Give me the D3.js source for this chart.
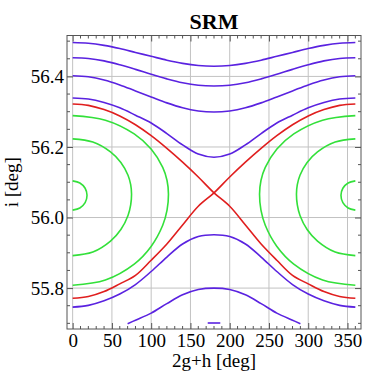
<!DOCTYPE html>
<html>
<head>
<meta charset="utf-8">
<script src="https://cdn.jsdelivr.net/npm/d3@7"></script>
<style>
  body { margin: 0; background: white; }
  text { font-family: "Liberation Serif", "Times New Roman", serif; fill: #000; }
</style>
</head>
<body>
<svg id="chart" width="372" height="380"></svg>
<script>
// tick values
const xMajor = [0, 50, 100, 150, 200, 250, 300, 350];
const yMajor = [55.8, 56.0, 56.2, 56.4];

// circulating contours (blue), [2g+h, i]
const blue1 = [[0,56.496],[20,56.494],[40,56.488],[60,56.479],[80,56.468],[100,56.457],[120,56.446],[140,56.437],[160,56.431],[180,56.429],
  [200,56.431],[220,56.437],[240,56.446],[260,56.457],[280,56.468],[300,56.479],[320,56.488],[340,56.494],[360,56.496]];
const blue2 = [[0,56.453],[20,56.451],[40,56.444],[60,56.433],[80,56.420],[100,56.406],[120,56.393],[140,56.382],[160,56.375],[180,56.373],
  [200,56.375],[220,56.382],[240,56.393],[260,56.406],[280,56.420],[300,56.433],[320,56.444],[340,56.451],[360,56.453]];
const blue3 = [[0,56.402],[20,56.399],[40,56.390],[60,56.376],[80,56.359],[100,56.342],[120,56.325],[140,56.311],[160,56.302],[180,56.299],
  [200,56.302],[220,56.311],[240,56.325],[260,56.342],[280,56.359],[300,56.376],[320,56.390],[340,56.399],[360,56.402]];
const blue4 = [[0,56.339],[20,56.336],[40,56.326],[60,56.311],[80,56.290],[100,56.268],[120,56.238],[140,56.206],[160,56.180],[180,56.171],
  [200,56.180],[220,56.206],[240,56.238],[260,56.268],[280,56.290],[300,56.311],[320,56.326],[340,56.336],[360,56.339]];
const blue5 = [[0,55.746],[20,55.751],[40,55.764],[60,55.783],[80,55.810],[100,55.847],[120,55.888],[140,55.925],[160,55.946],[180,55.951],
  [200,55.946],[220,55.925],[240,55.888],[260,55.847],[280,55.810],[300,55.783],[320,55.764],[340,55.751],[360,55.746]];
const blue6 = [[70,55.699],[80,55.709],[100,55.729],[120,55.756],[140,55.781],[160,55.796],[180,55.800],
  [200,55.796],[220,55.781],[240,55.756],[260,55.729],[280,55.709],[290,55.699]];
const blue7 = [[172,55.701],[188,55.701]];

// separatrix (red)
const red1 = [[0,56.322],[20,56.318],[40,56.306],[60,56.288],[80,56.263],[100,56.232],[120,56.196],[140,56.157],[160,56.115],[180,56.070],
  [200,56.032],[220,55.979],[240,55.925],[260,55.879],[280,55.836],[300,55.812],[320,55.790],[340,55.776],[360,55.771]];
const red2 = [[0,55.771],[20,55.776],[40,55.790],[60,55.812],[80,55.836],[100,55.879],[120,55.925],[140,55.979],[160,56.032],[180,56.070],
  [200,56.115],[220,56.157],[240,56.196],[260,56.232],[280,56.263],[300,56.288],[320,56.306],[340,56.318],[360,56.322]];

// librating contours (green), traced top -> tip -> bottom
const green1L = [[0,56.289],[41.7,56.276],[78.4,56.237],[99.9,56.194],[114.7,56.142],[120.2,56.105],[122,56.066],
  [120.2,56.021],[114.7,55.978],[99.9,55.918],[78.4,55.868],[41.7,55.823],[0,55.808]];
const green1R = [[360,56.289],[318.3,56.276],[281.6,56.237],[260.1,56.194],[245.3,56.142],[239.8,56.105],[238,56.066],
  [239.8,56.021],[245.3,55.978],[260.1,55.918],[281.6,55.868],[318.3,55.823],[360,55.808]];
const green2L = [[0,56.223],[25.7,56.214],[48.2,56.186],[61.4,56.156],[70.5,56.120],[73.9,56.093],[75,56.066],
  [73.9,56.036],[70.5,56.006],[61.4,55.966],[48.2,55.933],[25.7,55.902],[0,55.892]];
const green2R = [[360,56.223],[334.3,56.214],[311.8,56.186],[298.6,56.156],[289.5,56.120],[286.1,56.093],[285,56.066],
  [286.1,56.036],[289.5,56.006],[298.6,55.966],[311.8,55.933],[334.3,55.902],[360,55.892]];
const green3L = [[0,56.104],[9.2,56.098],[15.9,56.083],[18.3,56.063],[15.9,56.042],[9.2,56.027],[0,56.021]];
const green3R = [[360,56.104],[350.8,56.098],[344.1,56.083],[341.7,56.063],[344.1,56.042],[350.8,56.027],[360,56.021]];

const blueCurves = [blue1, blue2, blue3, blue4, blue5, blue6, blue7];
const redCurves = [red1, red2];
const greenCurves = [green1L, green1R, green2L, green2R, green3L, green3R];

const W = 372, H = 380;
const margin = { left: 67, top: 35.5, right: 11, bottom: 51 };
const innerW = W - margin.left - margin.right;
const innerH = H - margin.top - margin.bottom;

const x = d3.scaleLinear().domain([-7.2, 367.2]).range([0, innerW]);
const y = d3.scaleLinear().domain([55.684, 56.516]).range([innerH, 0]);

const svg = d3.select("#chart");
svg.append("rect").attr("width", W).attr("height", H).attr("fill", "white");

const g = svg.append("g").attr("transform", `translate(${margin.left},${margin.top})`);

// grid
g.append("g").selectAll("line").data(xMajor).join("line")
  .attr("x1", d => x(d)).attr("x2", d => x(d))
  .attr("y1", 0).attr("y2", innerH)
  .attr("stroke", "#c2c2c2").attr("stroke-width", 1);
g.append("g").selectAll("line").data(yMajor).join("line")
  .attr("y1", d => y(d)).attr("y2", d => y(d))
  .attr("x1", 0).attr("x2", innerW)
  .attr("stroke", "#c2c2c2").attr("stroke-width", 1);

// contours
const line = d3.line()
  .x(d => x(d[0]))
  .y(d => y(d[1]))
  .curve(d3.curveCatmullRom.alpha(0.5));

const curves = g.append("g").attr("fill", "none").attr("stroke-width", 1.6).attr("stroke-linejoin", "round");
curves.selectAll(".green").data(greenCurves).join("path")
  .attr("class", "green").attr("d", line).attr("stroke", "#33e03a");
curves.selectAll(".red").data(redCurves).join("path")
  .attr("class", "red").attr("d", line).attr("stroke", "#e01e1e");
curves.selectAll(".blue").data(blueCurves).join("path")
  .attr("class", "blue").attr("d", line).attr("stroke", "#5a22e0");

// frame ticks (inward, all four sides)
const xMinor = d3.range(0, 361, 10);
const yMinor = d3.range(55.7, 56.51, 0.05).map(v => +v.toFixed(2));

const bottomAxis = d3.axisBottom(x).tickValues(xMajor).tickSize(-6).tickPadding(5).tickFormat(d3.format("d"));
const leftAxis = d3.axisLeft(y).tickValues(yMajor).tickSize(-6).tickPadding(3).tickFormat(d3.format(".1f"));

function styleAxis(sel) {
  sel.select(".domain").remove();
  sel.selectAll(".tick line").attr("stroke", "#555");
  sel.selectAll(".tick text").attr("font-family", "Liberation Serif, serif").attr("font-size", 19).attr("fill", "#000");
}

g.append("g").attr("transform", `translate(0,${innerH})`).call(bottomAxis).call(styleAxis);
g.append("g").call(leftAxis).call(styleAxis);
g.append("g").call(d3.axisTop(x).tickValues(xMajor).tickSize(-6).tickFormat("")).call(styleAxis);
g.append("g").attr("transform", `translate(${innerW},0)`)
  .call(d3.axisRight(y).tickValues(yMajor).tickSize(-6).tickFormat("")).call(styleAxis);

// minor ticks
const minorX = xMinor.filter(v => !xMajor.includes(v));
const minorY = yMinor.filter(v => !yMajor.some(m => Math.abs(m - v) < 1e-6));
const minor = g.append("g").attr("stroke", "#555").attr("stroke-width", 1);
minor.selectAll(".mb").data(minorX).join("line").attr("class", "mb")
  .attr("x1", d => x(d)).attr("x2", d => x(d)).attr("y1", innerH).attr("y2", innerH - 3);
minor.selectAll(".mt").data(minorX).join("line").attr("class", "mt")
  .attr("x1", d => x(d)).attr("x2", d => x(d)).attr("y1", 0).attr("y2", 3);
minor.selectAll(".ml").data(minorY).join("line").attr("class", "ml")
  .attr("y1", d => y(d)).attr("y2", d => y(d)).attr("x1", 0).attr("x2", 3);
minor.selectAll(".mr").data(minorY).join("line").attr("class", "mr")
  .attr("y1", d => y(d)).attr("y2", d => y(d)).attr("x1", innerW).attr("x2", innerW - 3);

// frame
g.append("rect").attr("width", innerW).attr("height", innerH)
  .attr("fill", "none").attr("stroke", "#555").attr("stroke-width", 1);

// labels
svg.append("text").attr("x", margin.left + innerW / 2).attr("y", 29)
  .attr("text-anchor", "middle").attr("font-size", 22).attr("font-weight", "bold").text("SRM");
svg.append("text").attr("x", margin.left + innerW / 2).attr("y", 367)
  .attr("text-anchor", "middle").attr("font-size", 19).text("2g+h [deg]");
svg.append("text").attr("transform", `translate(18,${margin.top + innerH / 2}) rotate(-90)`)
  .attr("text-anchor", "middle").attr("font-size", 19).text("i [deg]");
</script>
</body>
</html>
